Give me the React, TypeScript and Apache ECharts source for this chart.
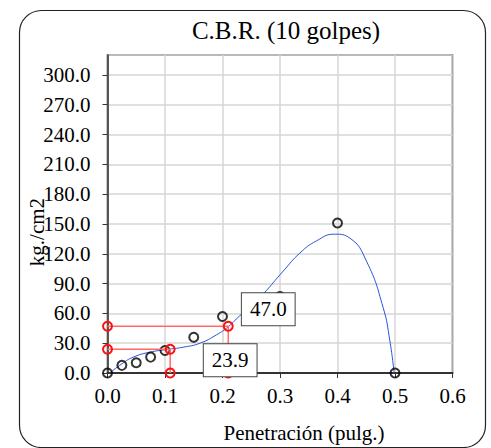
import React, { useEffect, useRef } from "react";
import * as echarts from "echarts";

const titleText = "C.B.R. (10 golpes)";
const xName = "Penetración (pulg.)";
const yName = "kg./cm2";

// measured points (penetration, load)
const penetration = [0, 0.025, 0.05, 0.075, 0.1, 0.15, 0.2, 0.3, 0.4, 0.5];
const load = [0, 7.7, 10.3, 16, 22.6, 35.9, 56.8, 77, 151, 0];

// trend curve
const trendX = [0.004, 0.025, 0.045, 0.074, 0.103, 0.132, 0.161, 0.19, 0.21, 0.23, 0.255, 0.271, 0.3056, 0.3346, 0.3636, 0.395, 0.4215, 0.4505, 0.4794, 0.491, 0.4985];
const trendY = [0, 9.3, 16, 21, 23.6, 26, 30, 38.6, 46.6, 57.6, 70, 79.5, 102.5, 120.7, 133, 139.7, 135.7, 112.4, 65.8, 32.6, 0];

// CBR read-off guides
const guide1X = [0, 0.21, 0.21];
const guide1Y = [47, 47, 0];
const guide2X = [0, 0.109, 0.109];
const guide2Y = [23.9, 23.9, 0];
const guideLabels = ["47.0", "23.9"];

const FONT = "'Liberation Serif', 'Times New Roman', serif";

export default function App() {
  const ref = useRef<HTMLDivElement>(null);
  useEffect(() => {
    if (!ref.current) return;
    const chart = echarts.init(ref.current, undefined, { renderer: "svg" });
    const pts = penetration.map((x, i) => [x, load[i]]);
    const trend = trendX.map((x, i) => [x, trendY[i]]);
    const labelStyle = {
      show: true,
      color: "#000",
      fontFamily: FONT,
      fontSize: 21,
      backgroundColor: "#fff",
      borderColor: "#444",
      borderWidth: 1,
      padding: [6, 8, 5, 8],
      lineHeight: 21,
    };
    const g1 = guide1X.map((x, i) => {
      const item: any = { value: [x, guide1Y[i]] };
      if (i === 1) item.label = { ...labelStyle, formatter: guideLabels[0], position: "inside", offset: [40, -17] };
      return item;
    });
    const g2 = guide2X.map((x, i) => {
      const item: any = { value: [x, guide2Y[i]] };
      if (i === 1) item.label = { ...labelStyle, formatter: guideLabels[1], position: "inside", offset: [60, 11] };
      return item;
    });
    const guideSeries = (data: any[]) => ({
      type: "line",
      data,
      symbol: "circle",
      symbolSize: 9,
      lineStyle: { color: "#ff6a6a", width: 1.5 },
      itemStyle: { color: "rgba(255,255,255,0)", borderColor: "#ff1010", borderWidth: 2 },
      z: 5,
      label: { show: false },
    });
    chart.setOption({
      animation: false,
      title: {
        text: titleText,
        left: 281,
        top: 13,
        textAlign: "center",
        textStyle: { fontFamily: FONT, fontSize: 25, fontWeight: "normal", color: "#000" },
      },
      graphic: [
        {
          type: "rect",
          shape: { x: 19.5, y: 10.5, width: 466, height: 437, r: 22 },
          style: { fill: "none", stroke: "#222", lineWidth: 1.2 },
          z: -1,
        },
      ],
      grid: {
        left: 107.5,
        right: 38.5,
        top: 55,
        bottom: 72,
        show: true,
        borderColor: "#333",
        borderWidth: 1.5,
      },
      xAxis: {
        type: "value",
        min: 0,
        max: 0.6,
        interval: 0.1,
        name: xName,
        nameLocation: "middle",
        nameGap: 49,
        nameMoveOverlap: false,
        nameTextStyle: { fontFamily: FONT, fontSize: 21, color: "#000", padding: [0, 0, 0, 48] },
        axisLine: { show: true, lineStyle: { color: "#333", width: 2 } },
        axisTick: { show: true, length: 5, lineStyle: { color: "#333" } },
        axisLabel: {
          fontFamily: FONT,
          fontSize: 21,
          color: "#000",
          margin: 12,
          formatter: (v: number) => v.toFixed(1),
        },
        splitLine: { show: true, lineStyle: { color: "#d6d6d6", width: 1.5 } },
      },
      yAxis: {
        type: "value",
        min: 0,
        max: 320,
        interval: 30,
        name: yName,
        nameLocation: "middle",
        nameGap: 60,
        nameRotate: 90,
        nameMoveOverlap: false,
        nameTextStyle: { fontFamily: FONT, fontSize: 21, color: "#000", padding: [0, 36, 0, 0] },
        axisLine: { show: true, lineStyle: { color: "#333", width: 1.5 } },
        axisTick: { show: true, length: 5, lineStyle: { color: "#333" } },
        axisLabel: {
          fontFamily: FONT,
          fontSize: 21,
          color: "#000",
          margin: 17,
          showMaxLabel: false,
          formatter: (v: number) => v.toFixed(1),
        },
        splitLine: { show: true, lineStyle: { color: "#d6d6d6", width: 1.5 } },
      },
      series: [
        {
          type: "line",
          data: trend,
          smooth: true,
          symbol: "none",
          lineStyle: { color: "#2a52d8", width: 1 },
          z: 2,
        },
        {
          type: "scatter",
          data: pts,
          symbol: "circle",
          symbolSize: 9,
          itemStyle: { color: "rgba(255,255,255,0)", borderColor: "#000", borderWidth: 2 },
          z: 4,
        },
        guideSeries(g1),
        guideSeries(g2),
      ],
    });
    return () => chart.dispose();
  }, []);
  return (
    <div
      ref={ref}
      style={{ position: "absolute", left: 0, top: 0, width: 491, height: 448 }}
    />
  );
}
